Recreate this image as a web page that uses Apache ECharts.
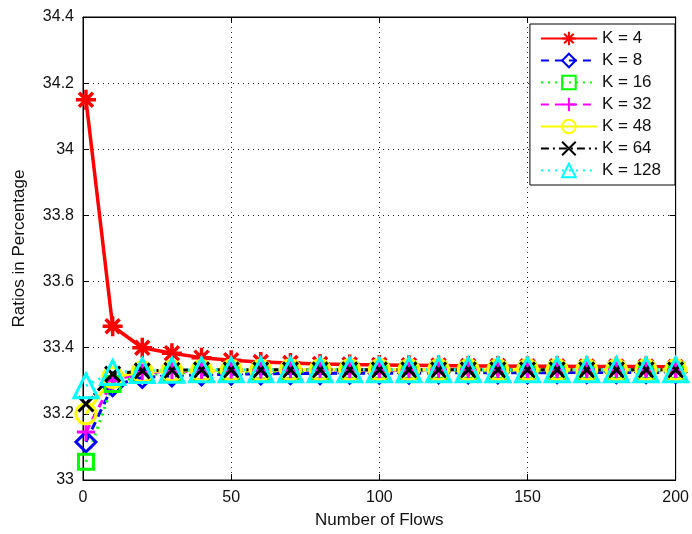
<!DOCTYPE html>
<html>
<head>
<meta charset="utf-8">
<script src="https://cdn.jsdelivr.net/npm/echarts@6/dist/echarts.min.js"></script>
<style>
  html, body { margin: 0; padding: 0; background: #fff; }
  #chart { width: 692px; height: 534px; }
</style>
</head>
<body>
<div id="chart"></div>
<script>
// 横轴: 流数量
var flows = [1, 10, 20, 30, 40, 50, 60, 70, 80, 90, 100, 110, 120, 130, 140, 150, 160, 170, 180, 190, 200]

// 各K值对应的比例
var k4 = [34.15, 33.465, 33.40, 33.383, 33.37, 33.362, 33.357, 33.354, 33.351, 33.349, 33.348, 33.347, 33.346, 33.345, 33.345, 33.344, 33.344, 33.343, 33.343, 33.343, 33.342]
var k8 = [33.115, 33.285, 33.31, 33.315, 33.318, 33.32, 33.321, 33.322, 33.322, 33.323, 33.323, 33.323, 33.324, 33.324, 33.324, 33.324, 33.325, 33.325, 33.325, 33.325, 33.325]
var k16 = [33.055, 33.29, 33.318, 33.323, 33.326, 33.327, 33.328, 33.329, 33.329, 33.33, 33.33, 33.33, 33.33, 33.33, 33.33, 33.33, 33.33, 33.33, 33.33, 33.33, 33.33]
var k32 = [33.145, 33.30, 33.325, 33.328, 33.33, 33.331, 33.331, 33.332, 33.332, 33.332, 33.332, 33.332, 33.333, 33.333, 33.333, 33.333, 33.333, 33.333, 33.333, 33.333, 33.333]
var k48 = [33.20, 33.31, 33.327, 33.33, 33.331, 33.332, 33.332, 33.333, 33.333, 33.333, 33.333, 33.333, 33.333, 33.333, 33.333, 33.333, 33.333, 33.333, 33.333, 33.333, 33.333]
var k64 = [33.23, 33.32, 33.33, 33.332, 33.333, 33.333, 33.333, 33.333, 33.333, 33.333, 33.333, 33.333, 33.333, 33.333, 33.333, 33.333, 33.333, 33.333, 33.333, 33.333, 33.333]
var k128 = [33.285, 33.325, 33.331, 33.332, 33.333, 33.333, 33.333, 33.333, 33.333, 33.333, 33.333, 33.333, 33.333, 33.333, 33.333, 33.333, 33.333, 33.333, 33.333, 33.333, 33.333]

var xTicks = [0, 50, 100, 150, 200]
var yTicks = [33, 33.2, 33.4, 33.6, 33.8, 34, 34.2, 34.4]

var font = 'Liberation Sans, Arial, sans-serif'

// 标记形状
var asterisk = 'path://M0,-10L0,10M-10,0L10,0M-7,-7L7,7M-7,7L7,-7'
var plus = 'path://M0,-10L0,10M-10,0L10,0'
var cross = 'path://M-10,-10L10,10M-10,10L10,-10'

function pairs (ys) {
  return flows.map(function (x, i) { return [x, ys[i]] })
}

function makeSeries (name, ys, color, dash, symbol, size, width) {
  return {
    name: name,
    type: 'line',
    data: pairs(ys),
    symbol: symbol,
    symbolSize: size,
    showAllSymbol: true,
    lineStyle: { color: color, width: width, type: dash },
    itemStyle: { color: 'rgba(0,0,0,0)', borderColor: color, borderWidth: width },
    emphasis: { disabled: true },
    animation: false
  }
}

var series = [
  makeSeries('K = 4', k4, '#ff0000', 'solid', asterisk, 20, 3.5),
  makeSeries('K = 8', k8, '#0000ff', [8, 6], 'diamond', 20, 3),
  makeSeries('K = 16', k16, '#00ff00', [2, 5], 'rect', 15, 3),
  makeSeries('K = 32', k32, '#ff00ff', [8, 6], plus, 18, 3),
  makeSeries('K = 48', k48, '#ffff00', 'solid', 'circle', 20, 3),
  makeSeries('K = 64', k64, '#000000', [8, 4, 2, 4], cross, 15, 3),
  makeSeries('K = 128', k128, '#00ffff', [2, 5], 'triangle', 24, 3)
]

var axisBase = {
  type: 'value',
  axisLine: { show: true, onZero: false, lineStyle: { color: '#000', width: 1 } },
  axisTick: { show: true, inside: true, length: 6, lineStyle: { color: '#000' } },
  splitLine: { show: false }
}

var option = {
  backgroundColor: '#fff',
  animation: false,
  grid: { left: 83, right: 15, top: 17, bottom: 47, show: true, borderColor: '#000', borderWidth: 1, backgroundColor: '#fff' },
  legend: {
    orient: 'vertical',
    right: 17,
    top: 24,
    itemWidth: 56,
    itemHeight: 17,
    itemGap: 5,
    padding: [6, 14, 6, 10],
    backgroundColor: '#fff',
    borderColor: '#000',
    borderWidth: 1,
    textStyle: { fontFamily: font, fontSize: 17, color: '#111' },
    data: series.map(function (s) { return s.name })
  },
  xAxis: [
    Object.assign({}, axisBase, {
      min: xTicks[0], max: xTicks[xTicks.length - 1], interval: 50,
      name: 'Number of Flows', nameLocation: 'middle', nameGap: 32,
      nameTextStyle: { fontFamily: font, fontSize: 17, color: '#111' },
      axisLabel: { fontFamily: font, fontSize: 16, color: '#111', margin: 10 },
      splitLine: { show: true, lineStyle: { color: '#222', type: [1, 4], width: 1 } }
    }),
    Object.assign({}, axisBase, {
      position: 'top', min: 0, max: 200, interval: 50, axisLabel: { show: false }
    })
  ],
  yAxis: [
    Object.assign({}, axisBase, {
      min: yTicks[0], max: yTicks[yTicks.length - 1], interval: 0.2,
      name: 'Ratios in Percentage', nameLocation: 'middle', nameGap: 55,
      nameTextStyle: { fontFamily: font, fontSize: 17, color: '#111' },
      axisLabel: { fontFamily: font, fontSize: 16, color: '#111', margin: 9 },
      splitLine: { show: true, lineStyle: { color: '#222', type: [1, 4], width: 1 } }
    }),
    Object.assign({}, axisBase, {
      position: 'right', min: 33, max: 34.4, interval: 0.2, axisLabel: { show: false }
    })
  ],
  series: series
}

var chart = echarts.init(document.getElementById('chart'))
chart.setOption(option)
</script>
</body>
</html>
